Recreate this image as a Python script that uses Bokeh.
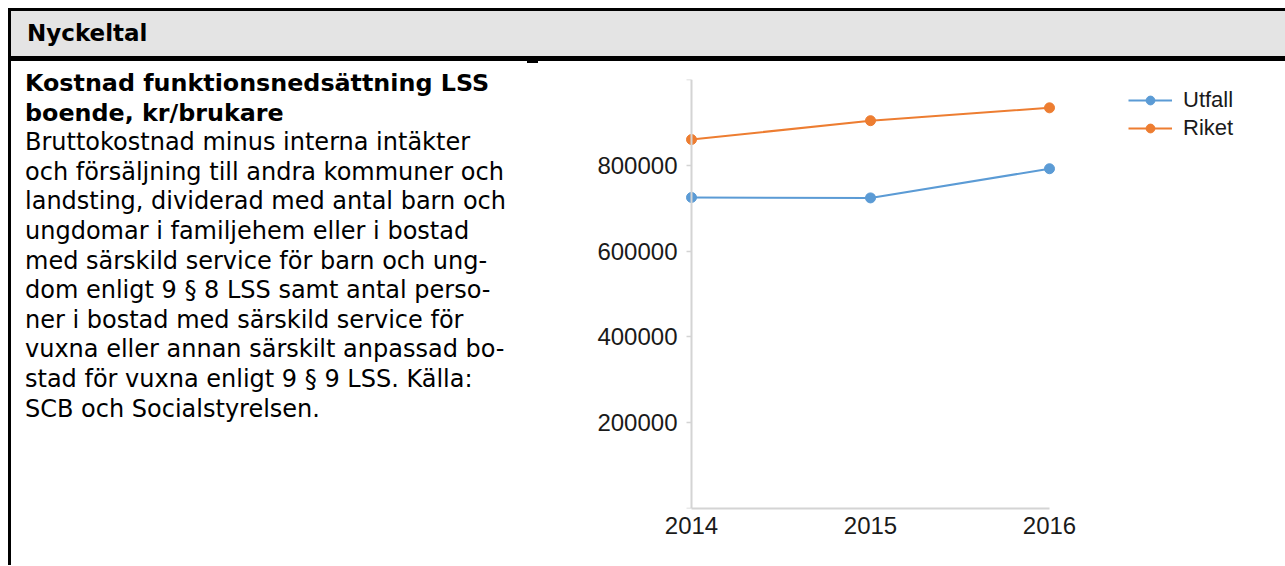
from bokeh.plotting import figure
from bokeh.models import (ColumnDataSource, Range1d, FixedTicker, Legend, LegendItem,
                          Div, BasicTickFormatter, LinearAxis)
from bokeh.layouts import column, row
from bokeh.embed import file_html
from bokeh.resources import INLINE

# ---- data ----
years = [2014, 2015, 2016]
utfall = [725000, 724000, 792000]
riket = [860000, 904000, 934000]
series_names = ["Utfall", "Riket"]
y_ticks = [0, 200000, 400000, 600000, 800000, 1000000]

header_title = "Nyckeltal"
kpi_title_lines = ["Kostnad funktionsnedsättning LSS", "boende, kr/brukare"]
kpi_text_lines = [
    "Bruttokostnad minus interna intäkter",
    "och försäljning till andra kommuner och",
    "landsting, dividerad med antal barn och",
    "ungdomar i familjehem eller i bostad",
    "med särskild service för barn och ung-",
    "dom enligt 9 § 8 LSS samt antal perso-",
    "ner i bostad med särskild service för",
    "vuxna eller annan särskilt anpassad bo-",
    "stad för vuxna enligt 9 § 9 LSS. Källa:",
    "SCB och Socialstyrelsen.",
]

BLUE = "#5b9bd5"
ORANGE = "#ed7d31"
AXIS_GREY = "#d4d4d4"
FONT = "Liberation Sans"
ROW_H = 504
PLOT_W = 747
PAD_PX = 8          # frame space left of the first year so markers are not clipped
BORDER_L = 153 - PAD_PX
FRAME_H = 429
YEAR_PX = 179       # pixel width of one year on the x axis

# ---- header ----
header = Div(
    text=f"<div style=\"font-family:'DejaVu Sans';font-weight:bold;font-size:23px;"
         f"line-height:45px;padding-left:16px;color:#000;white-space:nowrap;\">{header_title}</div>",
    width=1277, height=53, margin=(0, 0, 0, 0),
    styles={"border-top": "3px solid #000", "border-left": "3px solid #000",
            "border-bottom": "5px solid #000", "background-color": "#e4e4e4",
            "box-sizing": "border-box"},
)

# ---- text block ----
body_html = (
    "<div style=\"height:2px;width:11px;margin-left:516px;background:#000;\"></div>"
    "<div style=\"font-family:'DejaVu Sans';font-size:24px;line-height:29.6px;color:#000;"
    "padding:6px 0 0 14px;white-space:nowrap;\">"
    "<span style=\"font-weight:bold;font-size:23.8px;\">" + "<br>".join(kpi_title_lines) + "</span><br>"
    + "<br>".join(kpi_text_lines) + "</div>"
)
text_div = Div(text=body_html, width=530, height=ROW_H, margin=(0, 0, 0, 0),
               styles={"border-left": "3px solid #000", "box-sizing": "border-box"})

# ---- chart ----
src = ColumnDataSource(data=dict(year=years, utfall=utfall, riket=riket))

frame_w = PLOT_W - BORDER_L
x_start = years[0] - PAD_PX / YEAR_PX
x_end = x_start + frame_w / YEAR_PX   # frame extends right to hold the legend

p = figure(width=PLOT_W, height=ROW_H, output_backend="svg", toolbar_location=None,
           x_range=Range1d(x_start, x_end), y_range=Range1d(y_ticks[0], y_ticks[-1]),
           min_border_left=BORDER_L, min_border_right=0, min_border_top=18,
           min_border_bottom=ROW_H - 18 - FRAME_H, margin=(0, 0, 0, 0))
p.outline_line_color = None
p.grid.visible = False
p.background_fill_color = "white"
p.border_fill_color = "white"

# smaller markers used for the legend (hidden beneath the plotted markers)
m1 = p.scatter("year", "utfall", source=src, size=7, fill_color=BLUE, line_color=BLUE)
m2 = p.scatter("year", "riket", source=src, size=7, fill_color=ORANGE, line_color=ORANGE)

l1 = p.line("year", "utfall", source=src, line_color=BLUE, line_width=2)
s1 = p.scatter("year", "utfall", source=src, size=10, fill_color=BLUE, line_color=BLUE)
l2 = p.line("year", "riket", source=src, line_color=ORANGE, line_width=2)
s2 = p.scatter("year", "riket", source=src, size=10, fill_color=ORANGE, line_color=ORANGE)

# x axis
xa = p.xaxis[0]
xa.ticker = FixedTicker(ticks=years)
xa.bounds = (years[0], years[-1])
xa.axis_line_color = AXIS_GREY
xa.axis_line_width = 2
xa.major_tick_in = 0
xa.major_tick_out = 0
xa.minor_tick_line_color = None
xa.major_label_standoff = 8
xa.major_label_text_font = FONT
xa.major_label_text_font_size = "24px"
xa.major_label_text_color = "#1a1a1a"

# y axis labels (left panel, next to the frame)
ya = p.yaxis[0]
ya.ticker = FixedTicker(ticks=y_ticks)
ya.formatter = BasicTickFormatter(use_scientific=False)
ya.major_label_overrides = {y_ticks[0]: "", y_ticks[-1]: ""}
ya.axis_line_color = None
ya.major_tick_line_color = None
ya.minor_tick_line_color = None
ya.major_tick_in = 0
ya.major_tick_out = 0
ya.major_label_standoff = 6
ya.major_label_text_font = FONT
ya.major_label_text_font_size = "24px"
ya.major_label_text_color = "#1a1a1a"

# y axis line and ticks, drawn at the first year
yline = LinearAxis(ticker=FixedTicker(ticks=y_ticks), fixed_location=years[0],
                   axis_line_color=AXIS_GREY, axis_line_width=2,
                   major_tick_line_color=AXIS_GREY, major_tick_line_width=1.5,
                   major_tick_in=0, major_tick_out=5, minor_tick_line_color=None,
                   major_label_text_color=None)
p.add_layout(yline, "left")

legend = Legend(items=[LegendItem(label=series_names[0], renderers=[l1, m1]),
                       LegendItem(label=series_names[1], renderers=[l2, m2])],
                location=(437 + PAD_PX, 367), orientation="vertical",
                border_line_color=None, background_fill_alpha=0,
                padding=0, margin=0, spacing=2,
                glyph_width=44, glyph_height=22, label_height=22, label_standoff=11,
                label_text_font=FONT, label_text_font_size="22px", label_text_color="#1a1a1a")
p.add_layout(legend, "center")

layout = column(header, row(text_div, p, margin=(0, 0, 0, 0)), margin=(8, 0, 0, 8))

open("out.html", "w").write(file_html(layout, INLINE))
